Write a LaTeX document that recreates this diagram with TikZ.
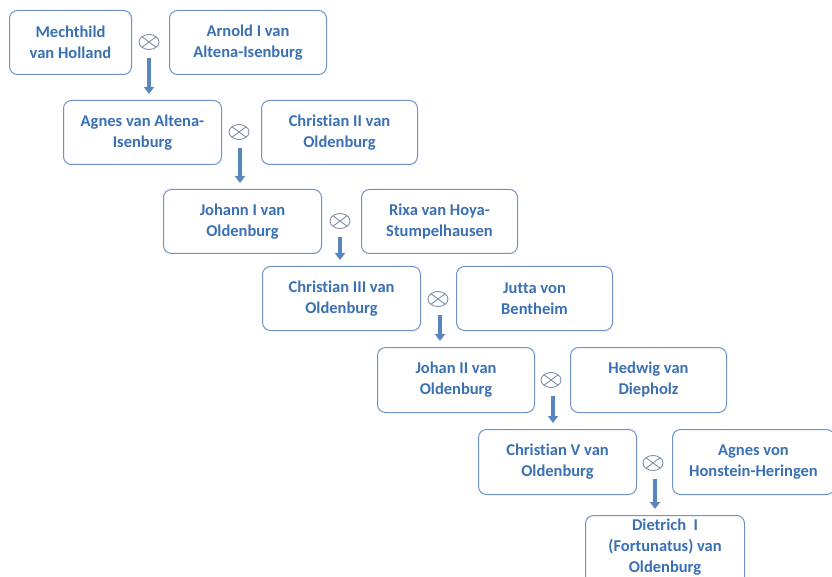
\documentclass[tikz,border=0pt]{standalone}
\usepackage{fontspec}
\setmainfont{Carlito}[Ligatures=NoCommon]
\usetikzlibrary{arrows.meta,shapes.geometric}
\definecolor{boxline}{HTML}{6F93C6}
\definecolor{txt}{HTML}{3A70B4}
\definecolor{mar}{HTML}{7F8EA8}
\definecolor{arr}{HTML}{5A86BE}
\tikzset{
  person/.style={draw=boxline, line width=1pt, rounded corners=8pt, fill=white,
    text=txt, font=\fontsize{16.5}{21}\selectfont\bfseries, align=center, inner sep=0pt},
  marsym/.style={ellipse, draw=mar, line width=0.9pt, minimum width=20pt, minimum height=15pt, inner sep=0pt,
    path picture={\draw[mar, line width=0.9pt] (path picture bounding box.north west) -- (path picture bounding box.south east)
      (path picture bounding box.north east) -- (path picture bounding box.south west);}},
  desc/.style={draw=arr, line width=3.5pt, shorten >=6pt, -{Triangle[width=10pt,length=7pt]}}
}
\newcommand{\pbox}[6]{% name, x1,y1,x2,y2, text
  \node[person, minimum width={#4-#2}, minimum height={#5-#3}, anchor=north west] (#1) at (#2,#3) {#6};}
\begin{document}
\begin{tikzpicture}[x=1pt,y=-1pt]
\useasboundingbox (0,0) rectangle (832,577);
\begin{scope}
\clip (0,0) rectangle (832,577);
\pbox{a1}{9}{10}{131}{74}{Mechthild\\van Holland}
\pbox{b1}{169}{10}{326}{74}{Arnold I van\\Altena-Isenburg}
\pbox{a2}{63}{100}{221}{164}{Agnes van Altena-\\Isenburg}
\pbox{b2}{261}{100}{417}{164}{Christian II van\\Oldenburg}
\pbox{a3}{163}{189}{321}{253}{Johann I van\\Oldenburg}
\pbox{b3}{361}{189}{517}{253}{Rixa van Hoya-\\Stumpelhausen}
\pbox{a4}{262}{266}{420}{330}{Christian III van\\Oldenburg}
\pbox{b4}{456}{266}{612}{330}{Jutta von\\Bentheim}
\pbox{a5}{377}{347}{534}{412}{Johan II van\\Oldenburg}
\pbox{b5}{570}{347}{726}{412}{Hedwig van\\Diepholz}
\pbox{a6}{478}{429}{636}{494}{Christian V van\\Oldenburg}
\pbox{b6}{672}{429}{834}{494}{Agnes von\\Honstein-Heringen}
\node[person, minimum width=159pt, minimum height=68pt, anchor=north west] (a7) at (585,515) {\raisebox{0pt}[\height][\dimexpr\depth+7pt\relax]{\begin{tabular}{@{}c@{}}Dietrich\ \ I\\(Fortunatus) van\\Oldenburg\end{tabular}}};
\end{scope}
\node[marsym] (m1) at (149,42) {};
\node[marsym] (m2) at (239,132) {};
\node[marsym] (m3) at (340,221) {};
\node[marsym] (m4) at (438,299) {};
\node[marsym] (m5) at (551,380) {};
\node[marsym] (m6) at (653,463) {};
\draw[desc] ([yshift=-8pt]m1.south) -- ([xshift=0pt]m1.south |- a2.north);
\draw[desc] ([xshift=1pt,yshift=-8pt]m2.south) -- ([xshift=1pt]m2.south |- a3.north);
\draw[desc] ([yshift=-8pt]m3.south) -- (m3.south |- a4.north);
\draw[desc] ([xshift=2pt,yshift=-8pt]m4.south) -- ([xshift=2pt]m4.south |- a5.north);
\draw[desc] ([xshift=2pt,yshift=-8pt]m5.south) -- ([xshift=2pt]m5.south |- a6.north);
\draw[desc] ([xshift=2pt,yshift=-8pt]m6.south) -- ([xshift=2pt]m6.south |- a7.north);
\end{tikzpicture}
\end{document}
